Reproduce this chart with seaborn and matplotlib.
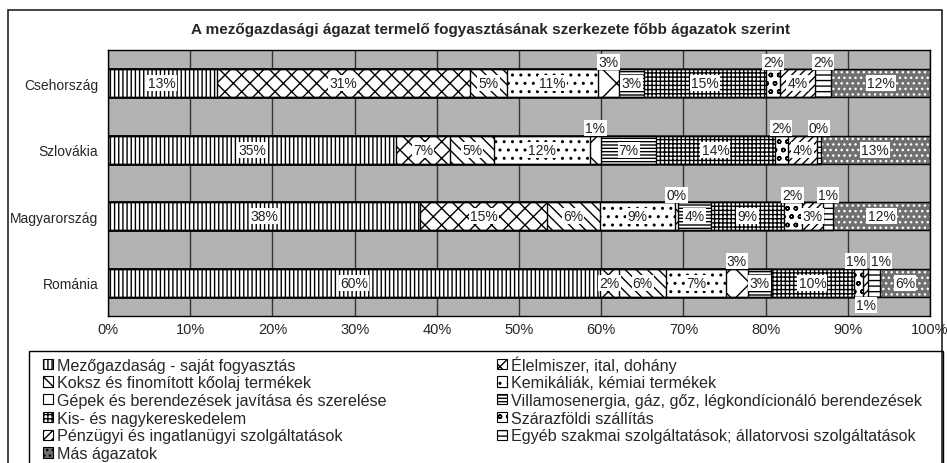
import matplotlib
matplotlib.use("Agg")
import matplotlib.pyplot as plt
from matplotlib.patches import Patch, Rectangle
import numpy as np
import seaborn as sns

COUNTRIES = ["Csehország", "Szlovákia", "Magyarország", "Románia"]
SECTORS = [
    "Mezőgazdaság - saját fogyasztás",
    "Élelmiszer, ital, dohány",
    "Koksz és finomított kőolaj termékek",
    "Kemikáliák, kémiai termékek",
    "Gépek és berendezések javítása és szerelése",
    "Villamosenergia, gáz, gőz, légkondícionáló berendezések",
    "Kis- és nagykereskedelem",
    "Szárazföldi szállítás",
    "Pénzügyi és ingatlanügyi szolgáltatások",
    "Egyéb szakmai szolgáltatások; állatorvosi szolgáltatások",
    "Más ágazatok",
]
# shares in %, per sector (same order as SECTORS)
CZ = [13.2, 30.8, 4.6, 11.0, 2.6, 3.0, 14.8, 1.8, 4.2, 2.0, 12.0]
SK = [35.0, 6.6, 5.4, 11.6, 1.4, 6.7, 14.4, 1.6, 3.6, 0.4, 13.3]
HU = [38.0, 15.4, 6.4, 9.2, 0.3, 4.1, 8.8, 2.2, 2.6, 1.2, 11.8]
RO = [59.8, 2.4, 5.7, 7.3, 2.6, 2.9, 10.0, 1.2, 0.6, 1.4, 6.1]
# where the value label sits: c = centre, a = above bar, b = below bar
LABEL_POS = ["ccccaccacac", "ccccaccacac", "ccccaccacac", "ccccaccabac"]
# small sideways nudges for crowded labels: (country, sector) -> % points
LABEL_NUDGE = {(3, 7): -0.3, (3, 9): 0.8}
TITLE = "A mezőgazdasági ágazat termelő fogyasztásának szerkezete főbb ágazatok szerint"

HATCHES = ["||||", "xx", "\\\\\\", "..", "x", "-----", "++++", "oo", "////", "---", "..."]
MAS_COLOR = "#707070"

sns.set_style("white")
plt.rcParams.update({
    "font.family": ["Liberation Sans", "DejaVu Sans"],
    "font.size": 10,
    "hatch.linewidth": 1.0,
})

W, H = 947, 464
fig = plt.figure(figsize=(W / 100, H / 100), dpi=100)
ax = fig.add_axes([108 / W, 1 - 317 / H, (930 - 108) / W, (317 - 51) / H])
ax.set_facecolor("#b3b3b3")

data = np.array([CZ, SK, HU, RO])
cum = np.cumsum(data, axis=1)
BAR_H = 0.42

# overlay cumulative bars, longest first, so every layer shows one segment
for k in range(len(SECTORS) - 1, -1, -1):
    n0 = len(ax.patches)
    last = k == len(SECTORS) - 1
    sns.barplot(x=cum[:, k], y=COUNTRIES, orient="h", width=BAR_H, errorbar=None,
                color=MAS_COLOR if last else "white", saturation=1,
                edgecolor="white" if last else "black", linewidth=0 if last else 1.0,
                ax=ax)
    for p in ax.patches[n0:]:
        p.set_hatch(HATCHES[k])

# outline of the full bars
sns.barplot(x=cum[:, -1], y=COUNTRIES, orient="h", width=BAR_H, errorbar=None,
            fill=False, color="black", linewidth=1.0, ax=ax)

for i, row in enumerate(data):
    left = 0.0
    for k, v in enumerate(row):
        xc = left + v / 2 + LABEL_NUDGE.get((i, k), 0.0)
        left += v
        pos = LABEL_POS[i][k]
        txt = f"{int(v + 0.5)}%"
        box = dict(boxstyle="square,pad=0.08", fc="white", ec="none")
        kw = dict(ha="center", fontsize=10, color="#222222", bbox=box)
        if pos == "c":
            ax.text(xc, i, txt, va="center", **kw)
        elif pos == "a":
            ax.text(xc, i - BAR_H / 2 - 0.01, txt, va="bottom", **kw)
        else:
            ax.text(xc, i + BAR_H / 2 + 0.02, txt, va="top", **kw)

ax.set_xlim(0, 100)
ax.set_xticks(range(0, 101, 10))
ax.set_xticklabels([f"{t}%" for t in range(0, 101, 10)])
ax.set_xlabel("")
ax.set_ylabel("")
ax.xaxis.grid(True, color="#333333", lw=1.0)
ax.yaxis.grid(False)
ax.set_axisbelow(True)
ax.tick_params(axis="x", length=0, pad=4, labelsize=10.5)
ax.tick_params(axis="y", length=0, pad=7, labelsize=10)
for s in ax.spines.values():
    s.set_visible(True)
    s.set_color("black")
    s.set_linewidth(1.0)

fig.text(490 / W, 1 - 30 / H, TITLE, ha="center", va="center", fontsize=11, fontweight="bold")

# chart frame and legend frame
fig.add_artist(Rectangle((8 / W, -0.01), (942 - 8) / W, 1 - 11 / H + 0.01,
                         transform=fig.transFigure, fill=False, ec="#222222", lw=1.2))
fig.add_artist(Rectangle((29 / W, -0.01), (943 - 29) / W, 1 - 352 / H + 0.01,
                         transform=fig.transFigure, fill=False, ec="black", lw=1.0))

handles = []
for k, h in enumerate(HATCHES):
    fc = MAS_COLOR if k == len(HATCHES) - 1 else "white"
    handles.append(Patch(facecolor=fc, edgecolor="black", hatch=h, lw=0.8))
order = [0, 2, 4, 6, 8, 10, 1, 3, 5, 7, 9]
leg = fig.legend([handles[j] for j in order], [SECTORS[j] for j in order],
                 loc="upper left", bbox_to_anchor=(43 / W, 1 - 356 / H), ncol=2,
                 frameon=False, fontsize=11.6,
                 handlelength=0.6, handleheight=0.6, handletextpad=0.25,
                 labelspacing=0.17, columnspacing=6.9, borderpad=0, borderaxespad=0)

fig.savefig("out.png", dpi=100)
